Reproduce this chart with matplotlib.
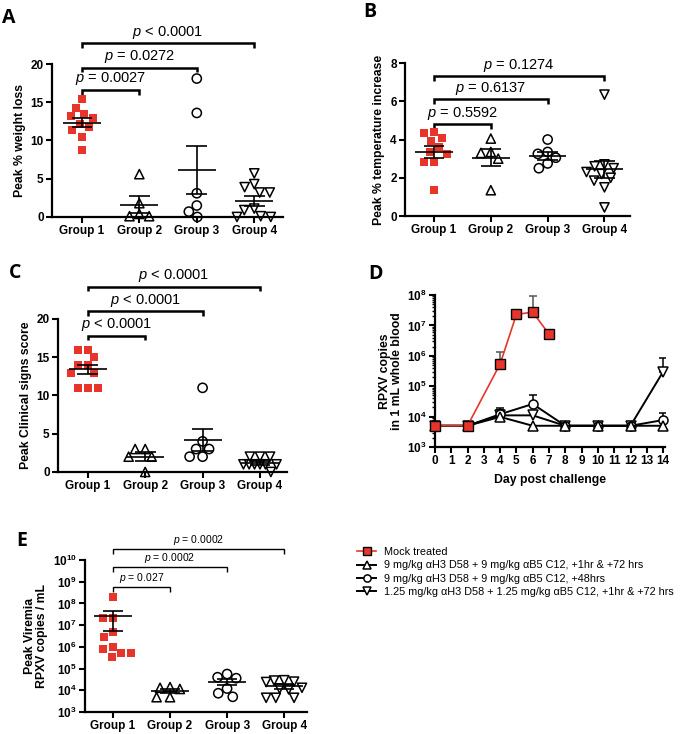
import numpy as np
import matplotlib
matplotlib.use('Agg')
import matplotlib.pyplot as plt
from matplotlib.ticker import LogLocator, NullFormatter

plt.rcParams['font.family'] = ['Liberation Sans', 'DejaVu Sans']
plt.rcParams['mathtext.fontset'] = 'custom'
plt.rcParams['mathtext.rm'] = 'Liberation Sans'
plt.rcParams['mathtext.it'] = 'Liberation Sans:italic'
plt.rcParams['mathtext.bf'] = 'Liberation Sans:bold'

# ---- data ----
groups = ['Group 1', 'Group 2', 'Group 3', 'Group 4']

weight_g1 = [15.4, 14.3, 13.4, 13.2, 12.9, 12.2, 11.7, 11.4, 10.5, 8.7]
weight_g2 = [5.6, 1.8, 0.4, 0.1, 0.1]
weight_g3 = [18.1, 13.6, 3.1, 1.5, 0.7, 0.0]
weight_g4 = [5.7, 4.3, 3.9, 3.2, 3.2, 1.1, 0.9, 0.1, 0.0, 0.0]
weight_mean = [12.3, 1.6, 6.1, 2.1]
weight_sem = [0.6, 1.1, 3.15, 0.7]
weight_p = ['$p$ = 0.0027', '$p$ = 0.0272', '$p$ < 0.0001']
weight_bracket = [16.6, 19.5, 22.7]

temp_g1 = [4.4, 4.35, 4.1, 3.9, 3.6, 3.35, 3.25, 2.8, 2.8, 1.35]
temp_g2 = [4.05, 3.35, 3.3, 3.0, 1.35]
temp_g3 = [4.0, 3.35, 3.25, 3.05, 2.75, 2.5]
temp_g4 = [6.35, 2.7, 2.6, 2.5, 2.3, 2.2, 2.0, 1.85, 1.5, 0.45]
temp_mean = [3.35, 3.05, 3.15, 2.45]
temp_sem = [0.3, 0.45, 0.2, 0.45]
temp_p = ['$p$ = 0.5592', '$p$ = 0.6137', '$p$ = 0.1274']
temp_bracket = [4.8, 6.1, 7.3]

clin_g1 = [16, 16, 15, 14, 14, 13, 13, 11, 11, 11]
clin_g2 = [3, 3, 2, 2, 0]
clin_g3 = [11, 4, 3, 3, 2, 2]
clin_g4 = [2, 2, 2, 1, 1, 1, 1, 1, 1, 0]
clin_mean = [13.4, 2.0, 4.2, 1.2]
clin_sem = [0.6, 0.55, 1.4, 0.25]
clin_p = ['$p$ < 0.0001', '$p$ < 0.0001', '$p$ < 0.0001']
clin_bracket = [17.8, 21.0, 24.2]

vir_g1 = [2.0e8, 2.2e7, 2.2e7, 5e6, 3e6, 1e6, 8.3e5, 5.4e5, 5e5, 3.3e5]
vir_g2 = [1.4e4, 1.3e4, 1.15e4, 4.8e3, 4.8e3]
vir_g3 = [5.6e4, 4e4, 3.6e4, 1.2e4, 7.3e3, 5e3]
vir_g4 = [2.9e4, 2.8e4, 2.5e4, 2.4e4, 1.3e4, 1.2e4, 1.1e4, 4.5e3, 4.5e3, 4.5e3]
vir_mean = [2.6e7, 9.6e3, 2.5e4, 1.5e4]
vir_sem = [2.05e7, 2.0e3, 8e3, 3.5e3]
vir_p = ['$p$ = 0.027', '$p$ = 0.0002', '$p$ = 0.0002']
vir_bracket = [10**8.76, 10**9.68, 10**10.5]

days_mock = [0, 2, 4, 5, 6, 7]
rpxv_mock = [5e3, 5e3, 5.4e5, 2.3e7, 2.75e7, 5.2e6]
rpxv_mock_err = [0, 0, 8e5, 0, 6.8e7, 0]
days = [0, 2, 4, 6, 8, 10, 12, 14]
rpxv_g2 = [5e3, 5e3, 9.8e3, 5e3, 5e3, 5e3, 5e3, 5e3]
rpxv_g2_err = [0, 0, 0, 0, 0, 0, 0, 0]
rpxv_g3 = [5e3, 5e3, 1.2e4, 2.6e4, 5e3, 5e3, 5e3, 7.7e3]
rpxv_g3_err = [0, 0, 7e3, 2.5e4, 0, 0, 0, 5.8e3]
rpxv_g4 = [5e3, 5e3, 1.1e4, 1.1e4, 5e3, 5e3, 5e3, 3e5]
rpxv_g4_err = [0, 0, 6e3, 0, 0, 0, 0, 5.3e5]

legend_labels = ['Mock treated',
                 '9 mg/kg αH3 D58 + 9 mg/kg αB5 C12, +1hr & +72 hrs',
                 '9 mg/kg αH3 D58 + 9 mg/kg αB5 C12, +48hrs',
                 '1.25 mg/kg αH3 D58 + 1.25 mg/kg αB5 C12, +1hr & +72 hrs']

RED = '#e8352b'
MARKERS = ['s', '^', 'o', 'v']


def swarm(yp, d, maxw):
    # beeswarm in pixels, width capped at +-maxw (overlap allowed when crowded)
    placed = []
    out = []
    grid = np.linspace(-maxw, maxw, 41)
    for y in yp:
        cands = [0.0]
        for px, py in placed:
            dy = abs(y - py)
            if dy < d:
                dx = np.sqrt(d * d - dy * dy)
                cands += [px - dx, px + dx]
        cands = sorted([c for c in cands if abs(c) <= maxw + 1e-6], key=abs)
        best = None
        for c in cands:
            if all((c - px) ** 2 + (y - py) ** 2 >= d * d - 1e-6 for px, py in placed):
                best = c
                break
        if best is None:
            dist = [min((c - px) ** 2 + (y - py) ** 2 for px, py in placed) for c in grid]
            best = grid[int(np.argmax(dist))]
        placed.append((best, y))
        out.append(best)
    return np.array(out)


def style_axes(ax):
    for s in ['top', 'right']:
        ax.spines[s].set_visible(False)
    for s in ['left', 'bottom']:
        ax.spines[s].set_linewidth(1.6)
    ax.tick_params(width=1.5, length=4, labelsize=8.5, pad=2)
    ax.tick_params(which='minor', width=1.0, length=2.5)


def dot_panel(ax, data, means, sems, ypx, log=False):
    for i, vals in enumerate(data):
        g = i + 1
        vals = np.array(vals, dtype=float)
        yv = np.log10(vals) if log else vals
        offs = swarm(yv * ypx, 10.0, 18.0) / 57.0
        if i == 0:
            ax.scatter(g + offs, vals, marker='s', s=26, c=RED, linewidths=0,
                       zorder=3, clip_on=False)
        else:
            ax.scatter(g + offs, vals, marker=MARKERS[i], s=44, facecolors='none',
                       edgecolors='black', linewidths=1.1, zorder=3, clip_on=False)
        m, e = means[i], sems[i]
        ax.hlines(m, g - 0.33, g + 0.33, color='black', lw=1.2, zorder=4)
        ax.vlines(g, m - e, m + e, color='black', lw=1.2, zorder=4)
        ax.hlines([m - e, m + e], g - 0.18, g + 0.18, color='black', lw=1.2, zorder=4)
    ax.set_xticks([1, 2, 3, 4])
    ax.set_xticklabels(groups, fontweight='bold')


def brackets(ax, heights, texts, tick, lw, fs, gap, log=False):
    for k, (h, t) in enumerate(zip(heights, texts)):
        x2 = k + 2
        lo = h / tick if log else h - tick
        ax.plot([1, 1, x2, x2], [lo, h, h, lo], color='black', lw=lw, clip_on=False,
                solid_joinstyle='miter', solid_capstyle='butt')
        ty = h * gap if log else h + gap
        ax.text((1 + x2) / 2, ty, t, ha='center', va='bottom', fontsize=fs)


fig = plt.figure(figsize=(6.86, 7.34), dpi=100)

# ---- A ----
axA = fig.add_axes([0.0758, 0.7044, 0.3367, 0.2084])
dot_panel(axA, [weight_g1, weight_g2, weight_g3, weight_g4], weight_mean, weight_sem, 7.65)
axA.set_xlim(0.48, 4.5)
axA.set_ylim(0, 20)
axA.set_yticks([0, 5, 10, 15, 20])
axA.set_yticklabels(['0', '5', '10', '15', '20'], fontweight='bold')
axA.set_ylabel('Peak % weight loss', fontsize=8.8, fontweight='bold', labelpad=3)
style_axes(axA)
brackets(axA, weight_bracket, weight_p, 0.6, 1.8, 10.5, 0.35)

# ---- B ----
axB = fig.add_axes([0.5904, 0.7057, 0.328, 0.2084])
dot_panel(axB, [temp_g1, temp_g2, temp_g3, temp_g4], temp_mean, temp_sem, 19.1)
axB.set_xlim(0.49, 4.45)
axB.set_ylim(0, 8)
axB.set_yticks([0, 2, 4, 6, 8])
axB.set_yticklabels(['0', '2', '4', '6', '8'], fontweight='bold')
axB.set_ylabel('Peak % temperature increase', fontsize=8.8, fontweight='bold', labelpad=4)
style_axes(axB)
brackets(axB, temp_bracket, temp_p, 0.25, 1.8, 10.5, 0.14)

# ---- C ----
axC = fig.add_axes([0.0845, 0.357, 0.3338, 0.2084])
dot_panel(axC, [clin_g1, clin_g2, clin_g3, clin_g4], clin_mean, clin_sem, 7.65)
axC.set_xlim(0.48, 4.47)
axC.set_ylim(0, 20)
axC.set_yticks([0, 5, 10, 15, 20])
axC.set_yticklabels(['0', '5', '10', '15', '20'], fontweight='bold')
axC.set_ylabel('Peak Clinical signs score', fontsize=8.8, fontweight='bold', labelpad=3)
style_axes(axC)
brackets(axC, clin_bracket, clin_p, 0.6, 1.8, 10.5, 0.35)

# ---- D ----
axD = fig.add_axes([0.634, 0.391, 0.335, 0.207])
series = [(days_mock, rpxv_mock, rpxv_mock_err),
          (days, rpxv_g2, rpxv_g2_err),
          (days, rpxv_g3, rpxv_g3_err),
          (days, rpxv_g4, rpxv_g4_err)]
handles = []
for i, (dx, dy, de) in enumerate(series):
    dx, dy, de = np.array(dx), np.array(dy), np.array(de)
    m = de > 0
    ecol = '#555555' if i == 0 else 'black'
    axD.errorbar(dx[m], dy[m], yerr=[np.zeros(m.sum()), de[m]], fmt='none',
                 ecolor=ecol, elinewidth=1.1, capsize=3, capthick=1.1, zorder=2)
    if i == 0:
        h, = axD.plot(dx, dy, color=RED, lw=1.2, marker='s', ms=6.5, mfc=RED,
                      mec='black', mew=1.0, zorder=5, clip_on=False)
    else:
        h, = axD.plot(dx, dy, color='black', lw=1.4, marker=MARKERS[i], ms=6.5,
                      mfc='white', mec='black', mew=1.1, zorder=4 - i * 0.1, clip_on=False)
    handles.append(h)
axD.set_yscale('log')
axD.set_xlim(0, 14.1)
axD.set_ylim(1e3, 1e8)
axD.set_xticks(range(15))
axD.set_xticklabels([str(v) for v in range(15)], fontweight='bold')
axD.set_yticks([10 ** k for k in range(3, 9)])
axD.set_yticklabels([r'$\mathbf{10^{%d}}$' % k for k in range(3, 9)])
axD.yaxis.set_minor_locator(LogLocator(base=10, subs=np.arange(2, 10)))
axD.yaxis.set_minor_formatter(NullFormatter())
axD.set_xlabel('Day post challenge', fontsize=8.8, fontweight='bold', labelpad=5)
axD.set_ylabel('RPXV copies\nin 1 mL whole blood', fontsize=8.8, fontweight='bold',
               labelpad=3, linespacing=1.0)
style_axes(axD)

# ---- E ----
axE = fig.add_axes([0.1239, 0.030, 0.3236, 0.207])
axE.set_yscale('log')
dot_panel(axE, [vir_g1, vir_g2, vir_g3, vir_g4], vir_mean, vir_sem, 21.7, log=True)
axE.set_xlim(0.51, 4.4)
axE.set_ylim(1e3, 1e10)
axE.set_yticks([10 ** k for k in range(3, 11)])
axE.set_yticklabels([r'$\mathbf{10^{%d}}$' % k for k in range(3, 11)])
axE.yaxis.set_minor_locator(LogLocator(base=10, subs=np.arange(2, 10)))
axE.yaxis.set_minor_formatter(NullFormatter())
axE.set_ylabel('Peak Viremia\nRPXV copies / mL', fontsize=8.8, fontweight='bold',
               labelpad=3, linespacing=1.0)
style_axes(axE)
brackets(axE, vir_bracket, vir_p, 10 ** 0.22, 1.0, 7.5, 10 ** 0.08, log=True)

# ---- legend ----
fig.legend(handles, legend_labels, loc='upper left', bbox_to_anchor=(0.513, 0.262),
           frameon=False, borderpad=0, handlelength=1.7, handletextpad=0.8,
           labelspacing=0.3, markerscale=0.8, prop={'size': 7.8})

# ---- panel letters ----
for lab, x, y in [('A', 9, 18), ('B', 370, 12), ('C', 15, 273), ('D', 375, 274), ('E', 22, 541)]:
    fig.text(x / 686, 1 - y / 734, lab, fontsize=14, fontweight='bold',
             family=['Open Sans', 'DejaVu Sans'], ha='center', va='center')

fig.savefig('out.png', dpi=100)
